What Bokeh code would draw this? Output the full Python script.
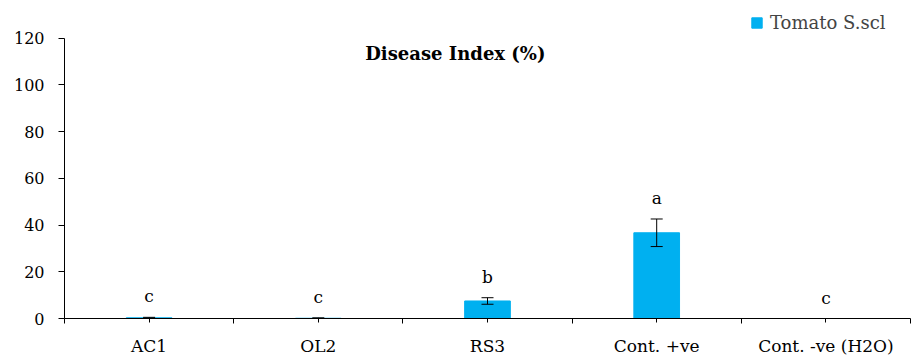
from bokeh.plotting import figure
from bokeh.models import (ColumnDataSource, Range1d, FixedTicker, Whisker, TeeHead,
                          Label, Legend, LegendItem)
from bokeh.core.properties import value
from bokeh.embed import file_html
from bokeh.resources import INLINE

categories = ["AC1", "OL2", "RS3", "Cont. +ve", "Cont. -ve (H2O)"]
values = [0.3, 0.1, 7.5, 36.7, 0.0]
errors = [0.2, 0.2, 1.4, 5.9, 0.0]
letters = ["c", "c", "b", "a", "c"]
y_ticks = [0, 20, 40, 60, 80, 100, 120]
series_name = "Tomato S.scl"
title_text = "Disease Index (%)"

FONT = "DejaVu Serif"
BLUE = "#00B0F0"

xs = [i + 0.5 for i in range(len(categories))]
src = ColumnDataSource(dict(
    x=xs, v=values,
    lo=[v - e for v, e in zip(values, errors)],
    hi=[v + e for v, e in zip(values, errors)],
    lab=letters,
))

p = figure(width=913, height=358, output_backend="svg", toolbar_location=None,
           x_range=Range1d(0, len(categories)), y_range=Range1d(0, 134),
           min_border_left=64, min_border_top=5, min_border_right=3,
           min_border_bottom=40)
p.outline_line_color = None
p.xgrid.visible = False
p.ygrid.visible = False
p.background_fill_color = "white"

bars = p.vbar(x="x", top="v", width=0.27, bottom=0, source=src,
              fill_color=BLUE, line_color=BLUE)

w = Whisker(base="x", lower="lo", upper="hi", source=src, line_color="black",
            line_width=1, level="overlay",
            upper_head=TeeHead(size=12, line_color="black", line_width=1),
            lower_head=TeeHead(size=12, line_color="black", line_width=1))
p.add_layout(w)

p.text(x="x", y="hi", text="lab", source=src, text_align="center",
       text_baseline="bottom", y_offset=-11, text_font=value(FONT),
       text_font_size="17px", text_color="black")

# axes
p.yaxis.ticker = FixedTicker(ticks=y_ticks)
p.yaxis.bounds = (0, 120)
p.yaxis.major_tick_out = 6
p.yaxis.major_tick_in = 0
p.yaxis.minor_tick_out = 0
p.yaxis.minor_tick_in = 0
p.yaxis.axis_line_color = "black"
p.yaxis.major_tick_line_color = "black"
p.yaxis.major_label_text_font = FONT
p.yaxis.major_label_text_font_size = "16px"
p.yaxis.major_label_text_color = "black"
p.yaxis.major_label_standoff = 14

boundaries = list(range(len(categories) + 1))
p.xaxis.ticker = FixedTicker(ticks=xs, minor_ticks=boundaries)
p.xaxis.major_label_overrides = {x: c for x, c in zip(xs, categories)}
p.xaxis.major_tick_out = 4
p.xaxis.major_tick_in = 0
p.xaxis.minor_tick_out = 5
p.xaxis.minor_tick_in = 0
p.xaxis.axis_line_color = "black"
p.xaxis.major_tick_line_color = "black"
p.xaxis.minor_tick_line_color = "black"
p.xaxis.major_label_text_font = FONT
p.xaxis.major_label_text_font_size = "17px"
p.xaxis.major_label_text_color = "black"
p.xaxis.major_label_standoff = 12

title = Label(x=2.31, y=113.5, text=title_text, text_align="center",
              text_baseline="middle", text_font=FONT, text_font_size="18px",
              text_font_style="bold", text_color="black")
p.add_layout(title)

legend = Legend(items=[LegendItem(label=series_name, renderers=[bars])],
                location=(686, 285), glyph_width=13, glyph_height=13,
                padding=0, margin=0, label_standoff=7, border_line_alpha=0,
                background_fill_alpha=0, label_text_font=FONT,
                label_text_font_size="18px", label_height=20)
p.add_layout(legend)

open("out.html", "w").write(file_html(p, INLINE))
